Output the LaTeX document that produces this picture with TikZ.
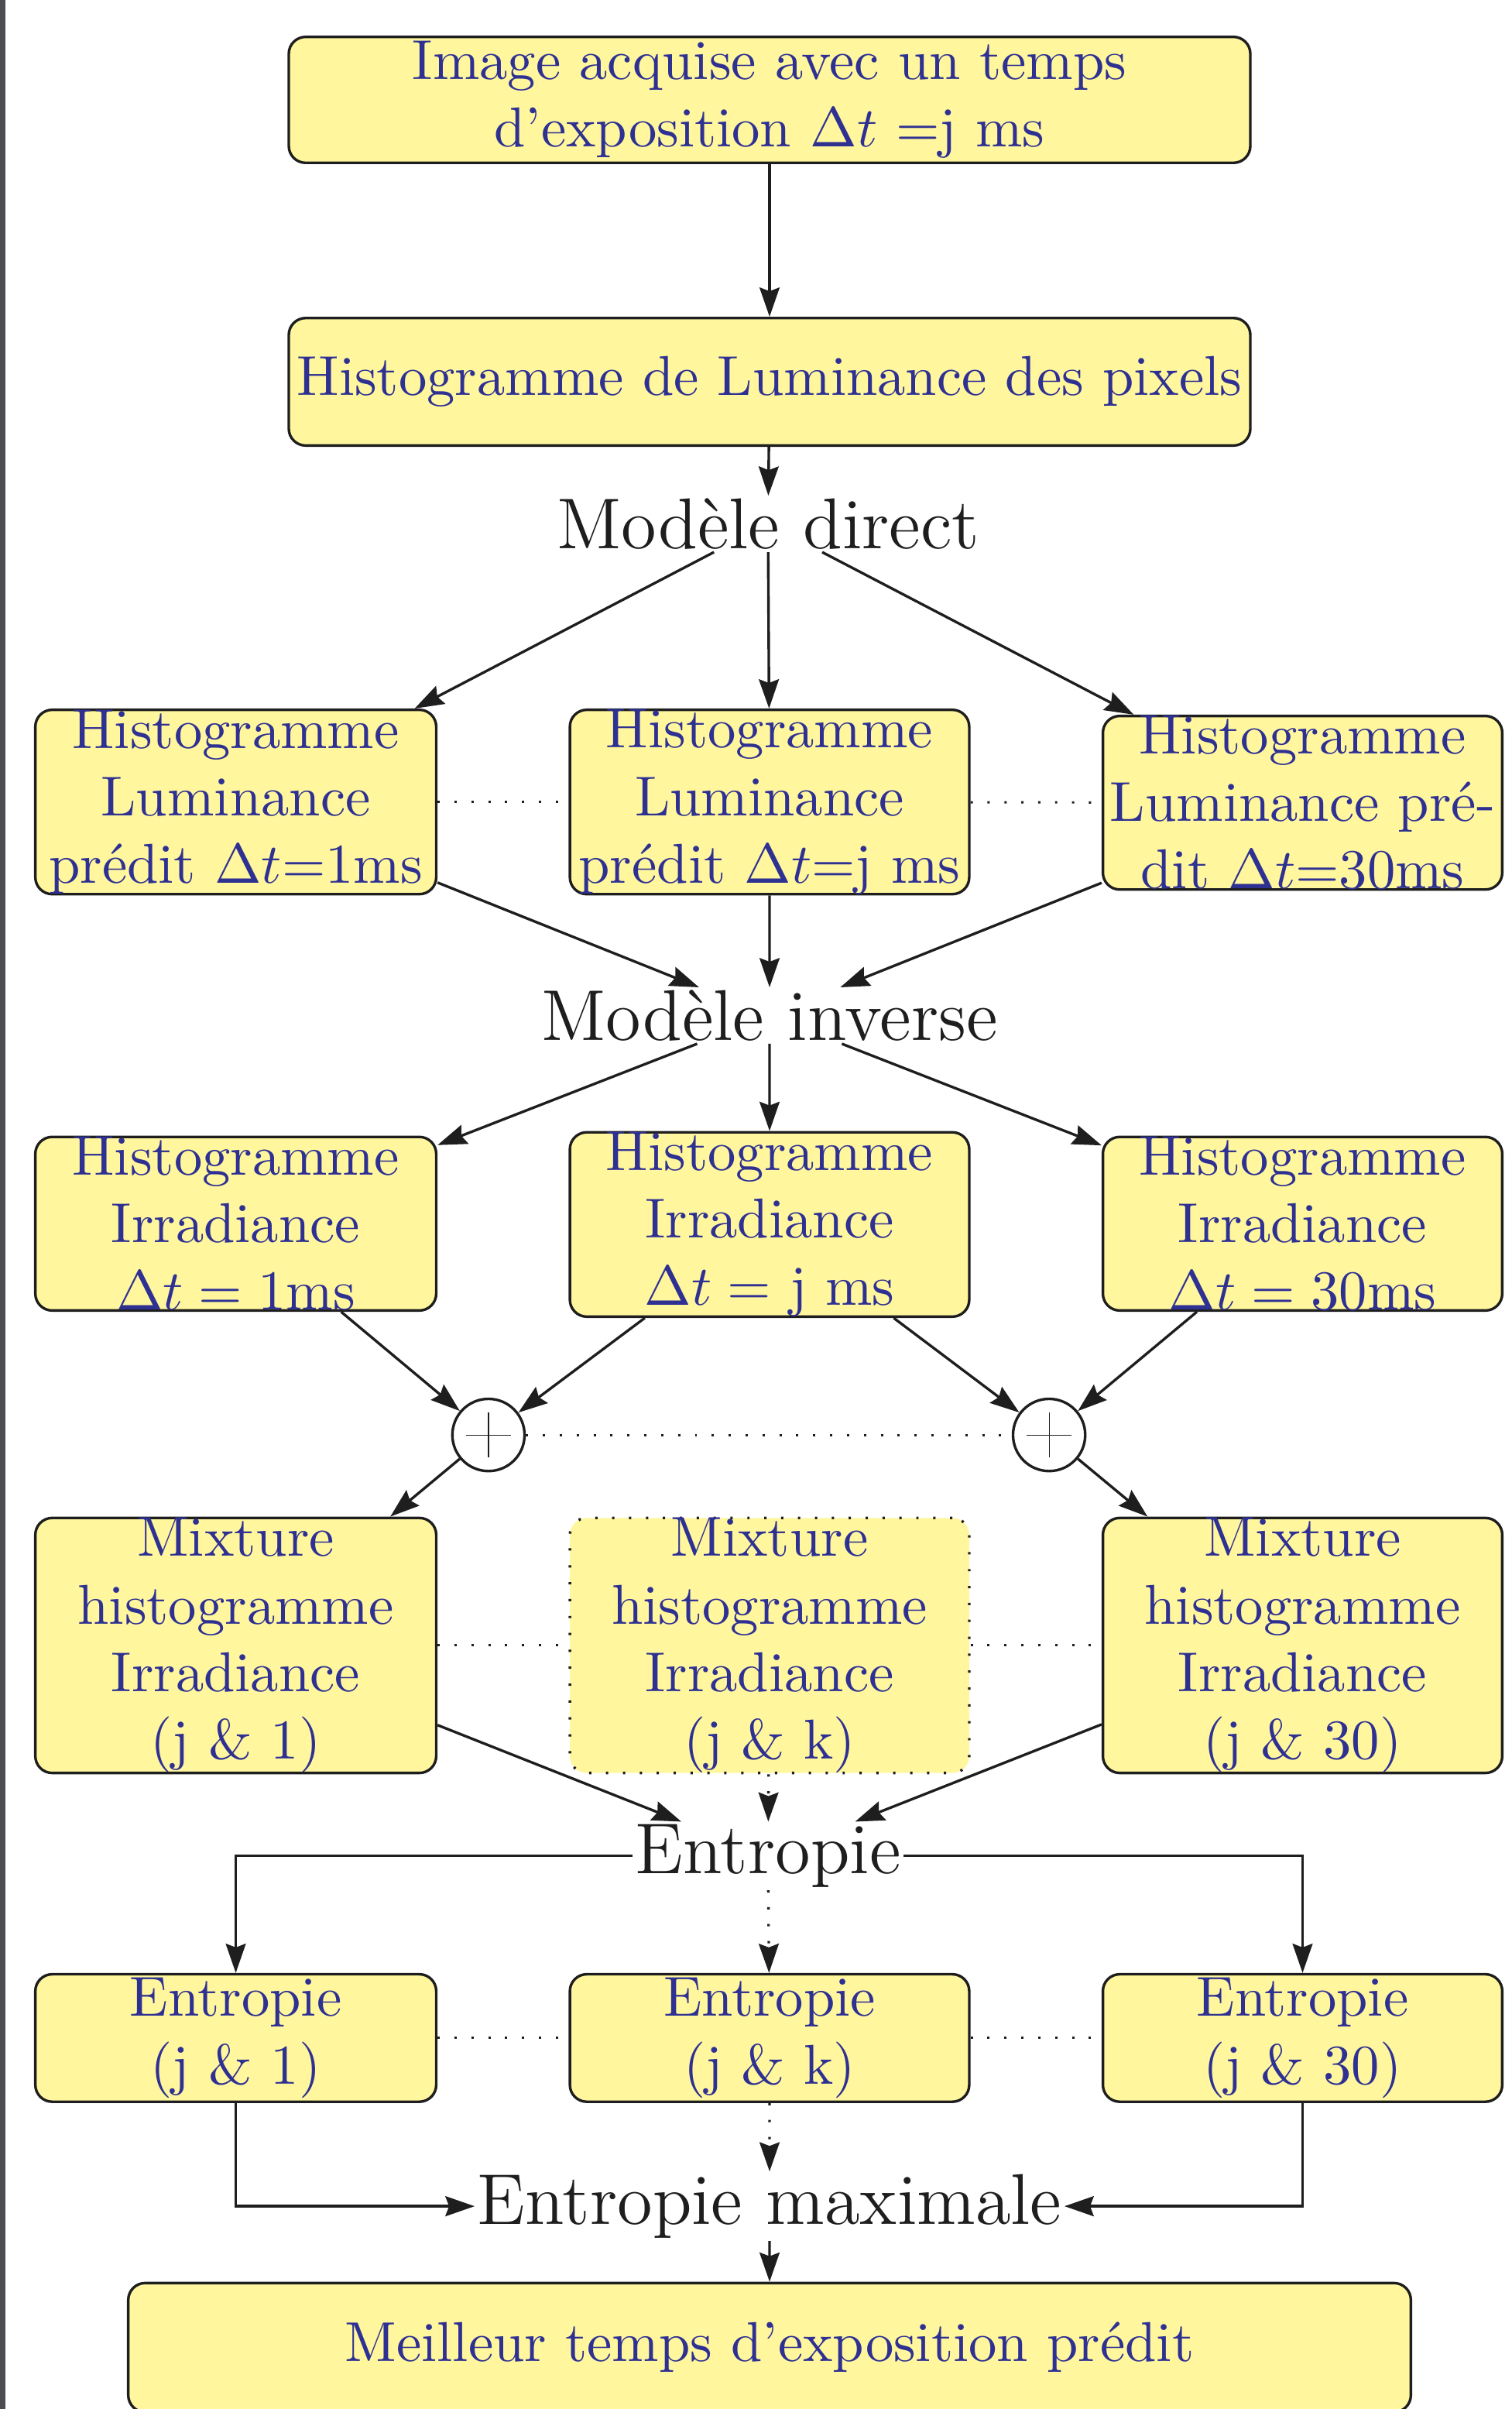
\documentclass[tikz,border=0pt]{standalone}
\usetikzlibrary{arrows.meta}
\definecolor{boxfill}{RGB}{255,246,158}
\definecolor{boxtext}{RGB}{46,49,146}
\definecolor{barcol}{RGB}{75,77,80}
\definecolor{inkcol}{RGB}{30,30,30}
\begin{document}
\begin{tikzpicture}[x=0.5pt,y=-0.5pt,
  box/.style={draw=inkcol, line width=0.85pt, fill=boxfill, rounded corners=5.5pt, inner sep=0pt},
  dotbox/.style={box, dash pattern=on 0.75pt off 4.75pt},
  btext/.style={text=boxtext, align=center, font=\fontsize{10}{12}\selectfont, inner sep=0pt, scale=1.83, transform shape},
  lbl/.style={font=\fontsize{12.8}{15}\selectfont, inner sep=0.3pt, text=inkcol, scale=1.83, transform shape},
  conn/.style={draw=inkcol, line width=0.85pt, -{Stealth[length=9.5pt,width=6.5pt,inset=1.2pt]}},
  dotarrow/.style={conn, dash pattern=on 0.75pt off 4.75pt},
  dotline/.style={draw=inkcol, line width=0.75pt, dash pattern=on 0.75pt off 4.75pt},
  sumnode/.style={draw=inkcol, circle, line width=0.85pt, minimum size=23.5pt, inner sep=0pt, fill=white}
]
\useasboundingbox (0,0) rectangle (984,1568);
\fill[barcol] (0,0) rectangle (3.5,1568);

% label anchors
\coordinate (cMD) at (500,341);
\coordinate (cMI) at (501,661);
\coordinate (cEN) at (500,1208);
\coordinate (cEM) at (501,1436);

% top boxes
\node[box, minimum width=313pt, minimum height=41pt] (img) at (501,65) {};
\node[btext] at (img.center) {Image acquise avec un temps\\d’exposition $\Delta t$ =j ms};
\node[box, minimum width=313pt, minimum height=41.5pt] (hist) at (501,248.5) {};
\node[btext] at (hist.center) {Histogramme de Luminance des pixels};
\node[lbl] (MD) at (cMD) {Modèle direct};

% luminance row
\node[box, minimum width=130.5pt, minimum height=60pt] (L1) at (153.5,522) {};
\node[btext] at (L1.center) {Histogramme\\Luminance\\prédit $\Delta t$=1ms};
\node[box, minimum width=130pt, minimum height=60pt] (L2) at (501,522) {};
\node[btext] at (L2.center) {Histogramme\\Luminance\\prédit $\Delta t$=j ms};
\node[box, minimum width=130pt, minimum height=56.5pt] (L3) at (848,522.5) {};
\node[btext] at (L3.center) {Histogramme\\Luminance pré-\\dit $\Delta t$=30ms};

\node[lbl] (MI) at (cMI) {Modèle inverse};

% irradiance row
\node[box, minimum width=130.5pt, minimum height=56.5pt] (I1) at (153.5,796.5) {};
\node[btext] at (I1.center) {Histogramme\\Irradiance\\$\Delta t = 1$ms};
\node[box, minimum width=130pt, minimum height=60pt] (I2) at (501,797) {};
\node[btext] at (I2.center) {Histogramme\\Irradiance\\$\Delta t =$ j ms};
\node[box, minimum width=130pt, minimum height=56.5pt] (I3) at (848,796.5) {};
\node[btext] at (I3.center) {Histogramme\\Irradiance\\$\Delta t = 30$ms};

% sums
\node[sumnode] (P1) at (318,934) {};
\node[sumnode] (P2) at (683,934) {};
\foreach \p in {P1,P2}{
  \draw[inkcol, line width=0.3pt] ([xshift=-7.4pt]\p.center) -- ([xshift=7.4pt]\p.center);
  \draw[inkcol, line width=0.3pt] ([yshift=-7.4pt]\p.center) -- ([yshift=7.4pt]\p.center);
}

% mixture row
\node[box, minimum width=130.5pt, minimum height=83pt] (M1) at (153.5,1071) {};
\node[btext] at (M1.center) {Mixture\\histogramme\\Irradiance\\(j \& 1)};
\node[dotbox, minimum width=130pt, minimum height=83pt] (M2) at (501,1071) {};
\node[btext] at (M2.center) {Mixture\\histogramme\\Irradiance\\(j \& k)};
\node[box, minimum width=130pt, minimum height=83pt] (M3) at (848,1071) {};
\node[btext] at (M3.center) {Mixture\\histogramme\\Irradiance\\(j \& 30)};

\node[lbl] (EN) at (cEN) {Entropie};

% entropy row
\node[box, minimum width=130.5pt, minimum height=41.5pt] (E1) at (153.5,1326.5) {};
\node[btext] at (E1.center) {Entropie\\(j \& 1)};
\node[box, minimum width=130pt, minimum height=41.5pt] (E2) at (501,1326.5) {};
\node[btext] at (E2.center) {Entropie\\(j \& k)};
\node[box, minimum width=130pt, minimum height=41.5pt] (E3) at (848,1326.5) {};
\node[btext] at (E3.center) {Entropie\\(j \& 30)};

\node[lbl] (EM) at (cEM) {Entropie maximale};

\node[box, minimum width=417.5pt, minimum height=42pt] (best) at (501,1528) {};
\node[btext] at (best.center) {Meilleur temps d’exposition prédit};

% connectors
\draw[conn] (img) -- (hist);
\draw[conn] (hist) -- (MD);
\draw[conn] (MD) -- (L1);
\draw[conn] (MD) -- (L2);
\draw[conn] (MD) -- (L3);
\draw[dotline] (L1) -- (L2);
\draw[dotline] (L2) -- (L3);
\draw[conn] (L1) -- (MI);
\draw[conn] (L2) -- (MI);
\draw[conn] (L3) -- (MI);
\draw[conn] (MI) -- (I1);
\draw[conn] (MI) -- (I2);
\draw[conn] (MI) -- (I3);
\draw[conn] (I1) -- (P1);
\draw[conn] (I2) -- (P1);
\draw[conn] (I2) -- (P2);
\draw[conn] (I3) -- (P2);
\draw[dotline] (P1) -- (P2);
\draw[conn] (P1) -- (M1);
\draw[conn] (P2) -- (M3);
\draw[dotline] (M1) -- (M2);
\draw[dotline] (M2) -- (M3);
\draw[conn] (M1) -- (EN);
\draw[dotarrow] (M2) -- (EN);
\draw[conn] (M3) -- (EN);
\draw[conn] (EN) -| (E1);
\draw[dotarrow] (EN) -- (E2);
\draw[conn] (EN) -| (E3);
\draw[dotline] (E1) -- (E2);
\draw[dotline] (E2) -- (E3);
\draw[conn] (E1) |- (EM);
\draw[dotarrow] (E2) -- (EM);
\draw[conn] (E3) |- (EM);
\draw[conn] (EM) -- (best);
\end{tikzpicture}
\end{document}
